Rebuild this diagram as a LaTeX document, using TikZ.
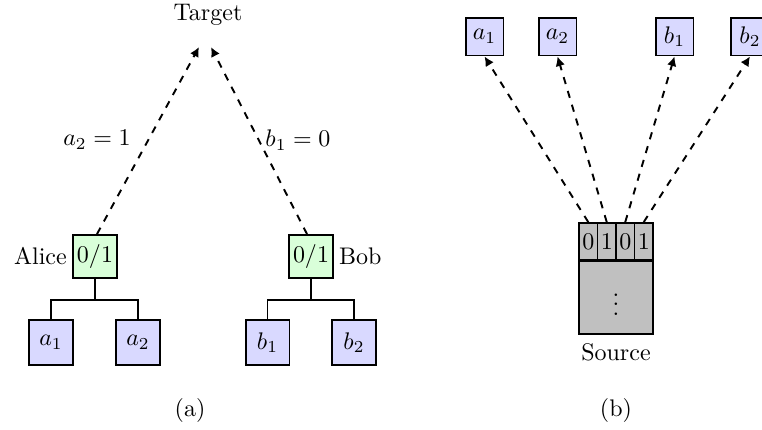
\documentclass[tikz,border=0pt]{standalone}
\usetikzlibrary{arrows.meta}
\definecolor{boxblue}{RGB}{217,217,255}
\definecolor{boxgreen}{RGB}{217,255,217}
\definecolor{cellgray}{RGB}{192,192,192}
\begin{document}
\begin{tikzpicture}[x=0.41667pt,y=-0.41667pt,
  leaf/.style={draw,thick,fill=boxblue,minimum width=18.3pt,minimum height=18.6pt,inner sep=0pt},
  sleaf/.style={draw,thick,fill=boxblue,minimum size=15.8pt,inner sep=0pt},
  party/.style={draw,thick,fill=boxgreen,minimum width=18.3pt,minimum height=17.9pt,inner sep=0pt},
  cell/.style={draw,thick,fill=cellgray,minimum width=7.7pt,minimum height=15.4pt,inner sep=0pt},
  dasharrow/.style={thick,dashed,-{Latex[length=4pt,width=4pt]}},
  tree/.style={thick}]
\useasboundingbox (0,0) rectangle (762,430);
% ---- (a)
\node (target) at (208,15) {Target};
\coordinate (tl) at (199,47);
\coordinate (tr) at (211,47);
\node[party] (alice) at (95,256.5) {$0/1$};
\node[party] (bob) at (311,256.5) {$0/1$};
\node[anchor=east,inner sep=2pt] (alicel) at (alice.west) {Alice};
\node[anchor=west,inner sep=2pt] (bobl) at (bob.east) {Bob};
\draw[dasharrow] (alice.north) ++(2,0) coordinate (as) -- (tl);
\draw[dasharrow] (bob.north) ++(-4,0) coordinate (bs) -- (tr);
\node (la) at (97,140) {$a_2=1$};
\node (lb) at (298,140) {$b_1=0$};
\node[leaf] (a1) at (51,342.5) {$a_1$};
\node[leaf] (a2) at (138,342.5) {$a_2$};
\node[leaf] (b1) at (267.5,342.5) {$b_1$};
\node[leaf] (b2) at (354,342.5) {$b_2$};
\draw[tree] (alice.south) -- ++(0,21) coordinate (abar);
\draw[tree] (a1.north) |- (abar) -| (a2.north);
\draw[tree] (bob.south) -- ++(0,21) coordinate (bbar);
\draw[tree] (b1.north) |- (bbar) -| (b2.north);
\node (capa) at (190,410) {(a)};
% ---- (b)
\node[sleaf] (ta1) at (484.5,36.5) {$a_1$};
\node[sleaf] (ta2) at (557.5,36.5) {$a_2$};
\node[sleaf] (tb1) at (674.5,36.5) {$b_1$};
\node[sleaf] (tb2) at (750,36.5) {$b_2$};
\node[cell] (c1) at (588.25,241.5) {0};
\node[cell] (c2) at (606.75,241.5) {1};
\node[cell] (c3) at (625.25,241.5) {0};
\node[cell] (c4) at (643.75,241.5) {1};
\node[draw,thick,fill=cellgray,minimum width=30.8pt,minimum height=30.4pt,inner sep=0pt,anchor=north] (src) at (616,260) {$\vdots$};
\node (srcl) at (616,352) {Source};
\draw[dasharrow] (c1.north) -- (ta1.south);
\draw[dasharrow] (c2.north) -- (ta2.south);
\draw[dasharrow] (c3.north) -- (tb1.south);
\draw[dasharrow] (c4.north) -- (tb2.south);
\node (capb) at (616,410) {(b)};
\end{tikzpicture}
\end{document}
